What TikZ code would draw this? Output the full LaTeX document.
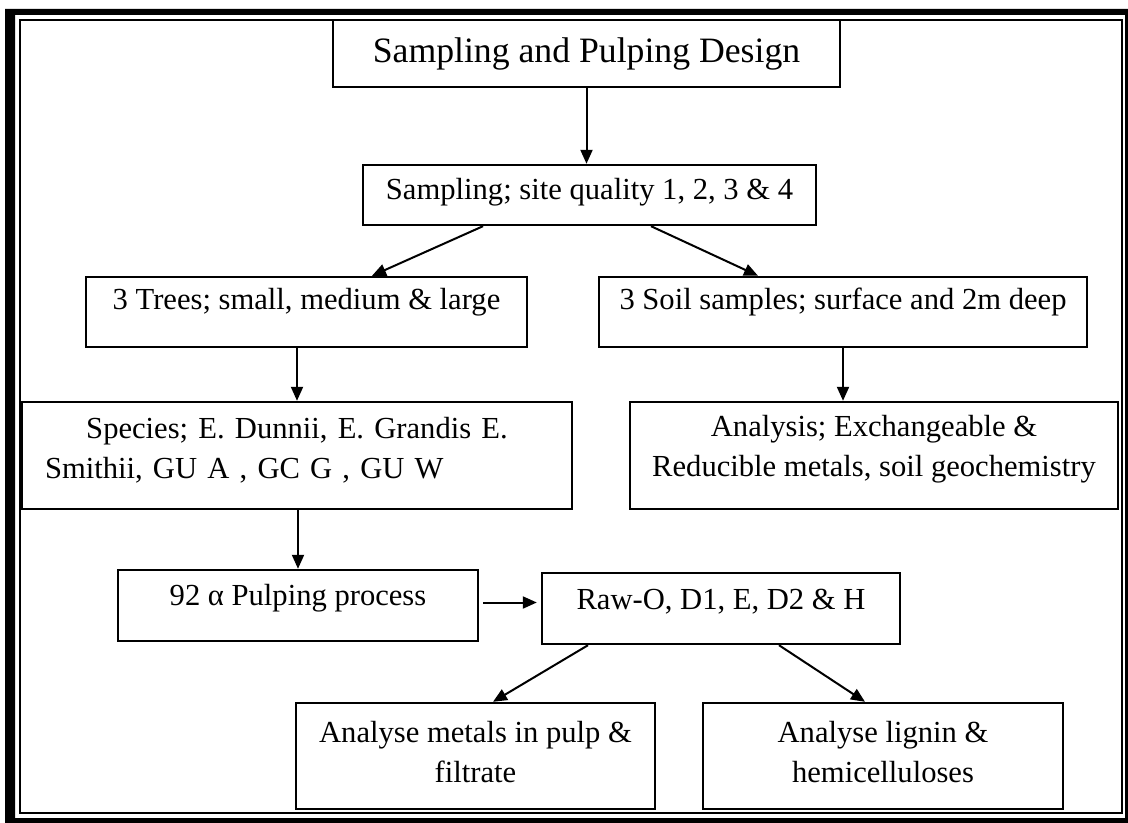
\documentclass[tikz,border=0pt]{standalone}
\usepackage{fontspec}
\setmainfont{Liberation Serif}
\usetikzlibrary{arrows.meta, positioning}

\begin{document}
\begin{tikzpicture}[x=0.5pt, y=-0.5pt,
    box/.style={draw, line width=1.2pt, inner sep=0pt, align=center,
      font=\fontsize{15.3pt}{20pt}\selectfont},
    lift/.style={text height=10.5pt, text depth=#1},
    flow/.style={-{Triangle[length=7pt, width=6pt]}, line width=1pt}]
  \useasboundingbox (0,0) rectangle (1128,823);
  \fill[even odd rule] (5,9) rectangle (1128,823) (15,15) rectangle (1125,818);
  \draw[line width=1pt] (20,20) rectangle (1122,813);

  \node (title) [box, minimum width=253.5pt, minimum height=33.5pt,
    font=\fontsize{17.85pt}{22pt}\selectfont] at (586.5,53.5) {Sampling and Pulping Design};
  \node (samp) [box, lift=6.3pt, minimum width=226.5pt, minimum height=30pt] at (589.5,195)
    {Sampling; site quality 1, 2, 3 \& 4};
  \node (trees) [box, lift=13.3pt, minimum width=220.5pt, minimum height=35pt] at (306.5,312)
    {3 Trees; small, medium \& large};
  \node (soil) [box, lift=13.3pt, minimum width=244pt, minimum height=35pt] at (843,312)
    {3 Soil samples; surface and 2m deep};
  \node (species) [box, text depth=27.2pt, minimum width=275pt, minimum height=53.5pt,
    text width=252pt, align=left] at (297,455.5)
    {\makebox[\linewidth]{Species; E. Dunnii, E. Grandis E.}\\ Smithii, GU A , GC G , GU W};
  \node (analysis) [box, text depth=9.8pt, minimum width=244pt, minimum height=53.5pt] at (874,455.5)
    {Analysis; Exchangeable \&\\ Reducible metals, soil geochemistry};
  \node (pulp) [box, lift=10.8pt, minimum width=180pt, minimum height=35.5pt] at (298,605.5)
    {92 α Pulping process};
  \node (raw) [box, lift=9.3pt, minimum width=179pt, minimum height=35.5pt] at (721,608.5)
    {Raw-O, D1, E, D2 \& H};
  \node (metals) [box, text depth=4pt, minimum width=179.5pt, minimum height=53pt] at (475.5,756)
    {Analyse metals in pulp \&\\ filtrate};
  \node (lignin) [box, text depth=4pt, minimum width=180pt, minimum height=53pt] at (883,756)
    {Analyse lignin \&\\ hemicelluloses};

  \draw[flow] (title.south) -- (title.south |- samp.north);
  \draw[flow] ([xshift=-53.25pt]samp.south) -- ([xshift=32.75pt]trees.north);
  \draw[flow] ([xshift=30.75pt]samp.south) -- ([xshift=-42.5pt]soil.north);
  \draw[flow] (trees.south -| species.north) -- (species.north);
  \draw[flow] (soil.south) -- (soil.south |- analysis.north);
  \draw[flow] (species.south -| pulp.north) -- (pulp.north);
  \draw[flow, shorten <=2pt, shorten >=2pt] ([yshift=1.5pt]pulp.east) -- ([yshift=1.5pt]pulp.east -| raw.west);
  \draw[flow] ([xshift=-66.5pt]raw.south) -- ([xshift=8.75pt]metals.north);
  \draw[flow] ([xshift=29pt]raw.south) -- ([xshift=-9pt]lignin.north);
\end{tikzpicture}
\end{document}
